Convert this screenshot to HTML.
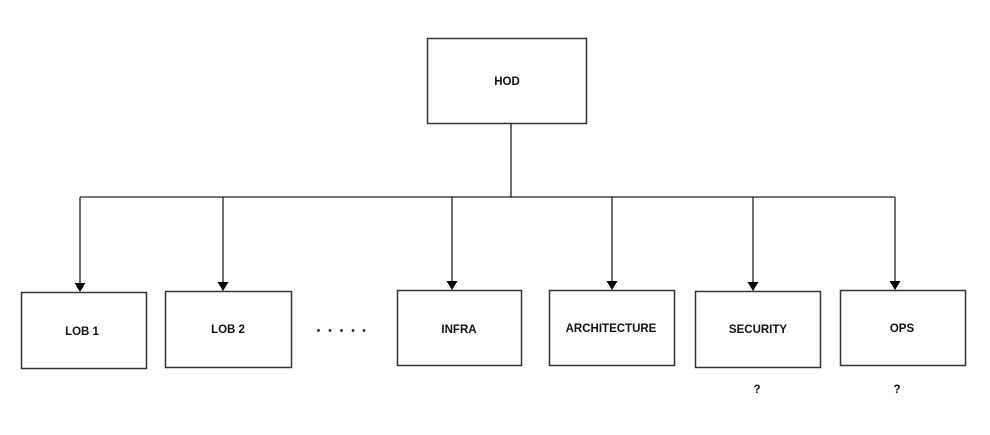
<!DOCTYPE html>
<html><head><style>body{margin:0;background:#fff}</style></head><body>
<svg width="990" height="430" xmlns="http://www.w3.org/2000/svg" font-family="Liberation Sans, Arial, sans-serif" font-weight="bold" font-size="11.5" text-anchor="middle">
<rect width="990" height="430" fill="#fff"/>
<g fill="#fff" stroke="#333" stroke-width="1.5">
<rect x="427.5" y="38.5" width="159" height="85"/>
<rect x="21.5" y="292.5" width="125" height="76"/>
<rect x="165.5" y="291.5" width="126" height="76"/>
<rect x="397.5" y="290.5" width="124" height="75"/>
<rect x="549.5" y="290.5" width="125" height="75"/>
<rect x="695.5" y="291.5" width="125" height="76"/>
<rect x="840.5" y="290.5" width="125" height="75"/>
</g>
<g stroke="#222" stroke-width="1.3" fill="none">
<path d="M511 123V197M80 197H895"/>
<path d="M80 197V284M223 197V283M452 197V282M612 197V282M753 197V283M895 197V282"/>
</g>
<g fill="#000">
<path d="M74.5 283L80 292L85.5 283Z"/><path d="M217.5 282L223 291L228.5 282Z"/>
<path d="M446.5 281L452 290L457.5 281Z"/><path d="M606.5 281L612 290L617.5 281Z"/>
<path d="M747.5 282L753 291L758.5 282Z"/><path d="M889.5 281L895 290L900.5 281Z"/>
</g>
<g fill="#222">
<circle cx="318.5" cy="330.5" r="1.4"/><circle cx="330" cy="330.5" r="1.4"/><circle cx="341.5" cy="330.5" r="1.4"/><circle cx="353" cy="330.5" r="1.4"/><circle cx="364" cy="330.5" r="1.4"/>
</g>
<g fill="#111">
<text x="82" y="335">LOB 1</text>
<text x="507" y="85">HOD</text>
<text x="228" y="333">LOB 2</text>
<text x="459" y="333">INFRA</text>
<text x="611" y="332">ARCHITECTURE</text>
<text x="758" y="333">SECURITY</text>
<text x="902" y="332">OPS</text>
<text x="757" y="393">?</text>
<text x="897" y="393">?</text>
</g>
</svg>
</body></html>
